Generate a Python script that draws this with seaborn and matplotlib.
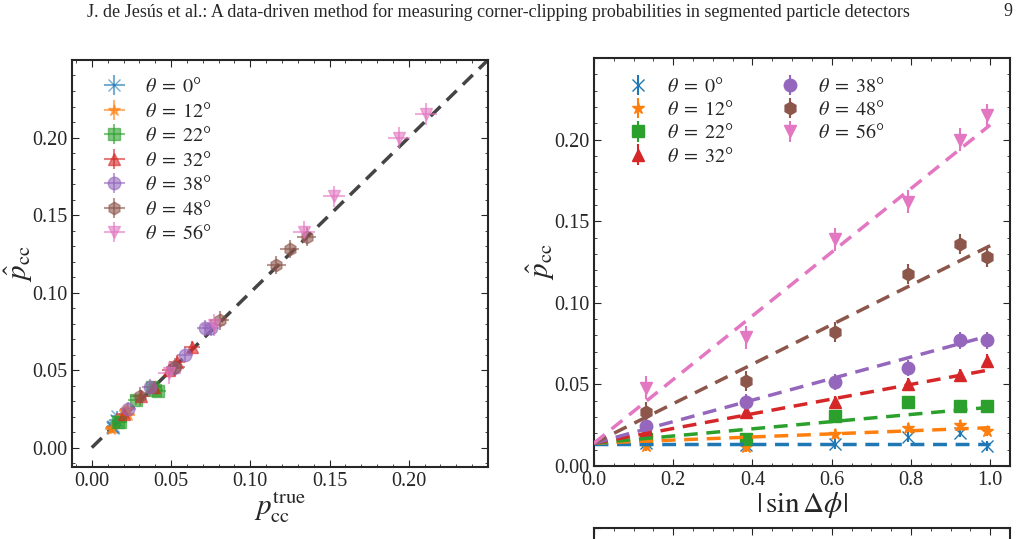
import matplotlib
matplotlib.use("Agg")
import matplotlib.pyplot as plt
import seaborn as sns
import numpy as np
import pandas as pd

# data
thetas = [0, 12, 22, 32, 38, 48, 56]
markers = ["x", "*", "s", "^", "o", "h", "v"]
sin_dphi = [0.1305, 0.3827, 0.6088, 0.7934, 0.9239, 0.9914]

p_hat = {
    0:  [0.0140, 0.0130, 0.0134, 0.0180, 0.0205, 0.0124],
    12: [0.0125, 0.0118, 0.0195, 0.0236, 0.0250, 0.0213],
    22: [0.0165, 0.0165, 0.0307, 0.0390, 0.0370, 0.0368],
    32: [0.0215, 0.0330, 0.0390, 0.0500, 0.0555, 0.0646],
    38: [0.0246, 0.0390, 0.0516, 0.0600, 0.0770, 0.0770],
    48: [0.0330, 0.0520, 0.0820, 0.1177, 0.1360, 0.1280],
    56: [0.0480, 0.0790, 0.1390, 0.1620, 0.2000, 0.2150],
}
p_true = {
    0:  [0.0135, 0.0130, 0.0135, 0.0150, 0.0160, 0.0135],
    12: [0.0130, 0.0120, 0.0185, 0.0210, 0.0220, 0.0230],
    22: [0.0165, 0.0175, 0.0280, 0.0380, 0.0400, 0.0420],
    32: [0.0200, 0.0310, 0.0390, 0.0490, 0.0536, 0.0630],
    38: [0.0230, 0.0367, 0.0520, 0.0589, 0.0715, 0.0750],
    48: [0.0304, 0.0525, 0.0806, 0.1165, 0.1355, 0.1250],
    56: [0.0490, 0.0768, 0.1340, 0.1530, 0.1940, 0.2110],
}
err_hat = [0.003, 0.003, 0.003, 0.004, 0.005, 0.006, 0.007]
err_true = [0.004, 0.004, 0.005, 0.005, 0.005, 0.006, 0.007]

# straight-line fits in |sin dphi|
fit_intercept = [0.0135, 0.0140, 0.0140, 0.0140, 0.0140, 0.0140, 0.0140]
fit_slope = [0.0000, 0.0095, 0.0220, 0.0450, 0.0660, 0.1210, 0.1950]
fit_x = [0.0, 1.0]

diag = [0.0, 0.25]

sns.set_style("ticks")
plt.rcParams["font.family"] = ["Liberation Serif", "DejaVu Serif"]
plt.rcParams["mathtext.fontset"] = "stix"
colors = sns.color_palette("tab10", 7)

fig = plt.figure(figsize=(10.23, 5.39), dpi=100)
ax1 = fig.add_axes([0.0704, 0.1336, 0.4066, 0.7551])
ax2 = fig.add_axes([0.5806, 0.1354, 0.4067, 0.7570])
ax3 = fig.add_axes([0.5806, -0.5, 0.4067, 0.5204])

fig.text(0.487, 0.978, "J. de Jesús et al.: A data-driven method for measuring corner-clipping "
         "probabilities in segmented particle detectors", ha="center", va="center", fontsize=13)
fig.text(0.985, 0.978, "9", ha="center", va="center", fontsize=13)

labels = [rf"$\theta\;=\;{th}$°" for th in thetas]

# left panel
sns.lineplot(x=diag, y=diag, ax=ax1, color="#444444", ls=(0, (4, 2.5)), lw=2.5, zorder=1)
for i, th in enumerate(thetas):
    ax1.errorbar(p_true[th], p_hat[th], xerr=err_true[i], yerr=err_hat[i], fmt=markers[i],
                 color=colors[i], ms=9, alpha=0.6, elinewidth=1.5, capsize=0,
                 label=labels[i], zorder=3)
ax1.set_xlim(-0.0125, 0.25)
ax1.set_ylim(-0.0125, 0.25)
ax1.set_xticks([0.0, 0.05, 0.10, 0.15, 0.20])
ax1.set_yticks([0.0, 0.05, 0.10, 0.15, 0.20])
ax1.set_xlabel(r"$p_{\rm cc}^{\rm true}$", fontsize=21, labelpad=0)
ax1.set_ylabel(r"$\hat{p}_{\rm cc}$", fontsize=21)
ax1.yaxis.set_label_coords(-0.09, 0.5)
ax1.legend(loc="upper left", frameon=False, fontsize=14.5, handletextpad=0.5,
           labelspacing=0.27, borderaxespad=0.5, bbox_to_anchor=(0.01, 1.0))

# right panel
for i, th in enumerate(thetas):
    ax2.errorbar(sin_dphi, p_hat[th], yerr=err_hat[i], fmt=markers[i], color=colors[i],
                 ms=9, elinewidth=1.5, capsize=0, label=labels[i], zorder=3)
    fit_y = [fit_intercept[i] + fit_slope[i] * x for x in fit_x]
    sns.lineplot(x=fit_x, y=fit_y, ax=ax2, color=colors[i], ls=(0, (4, 2.5)), lw=2.5, zorder=4)
ax2.set_xlim(0, 1.05)
ax2.set_ylim(0, 0.25)
ax2.set_xticks([0.0, 0.2, 0.4, 0.6, 0.8, 1.0])
ax2.set_yticks([0.0, 0.05, 0.10, 0.15, 0.20])
ax2.set_xlabel(r"$|\,\sin\Delta\phi|$", fontsize=21, labelpad=0)
ax2.set_ylabel(r"$\hat{p}_{\rm cc}$", fontsize=21)
ax2.yaxis.set_label_coords(-0.09, 0.5)
ax2.legend(loc="upper left", frameon=False, fontsize=14.5, ncol=2, handletextpad=0.4,
           labelspacing=0.2, columnspacing=1.8, borderaxespad=0.6, bbox_to_anchor=(0.01, 1.0))

for ax in (ax1, ax2, ax3):
    ax.minorticks_on()
    ax.tick_params(which="both", direction="in", top=True, right=True, labelsize=14.5)
    ax.tick_params(which="major", length=5)
    ax.tick_params(which="minor", length=2.5)
    for s in ax.spines.values():
        s.set_linewidth(1.5)
ax3.set_xlim(0, 1.05)
ax3.set_xticks([0.0, 0.2, 0.4, 0.6, 0.8, 1.0])
ax3.tick_params(labelbottom=False, labelleft=False)

fig.savefig("out.png", dpi=100)
